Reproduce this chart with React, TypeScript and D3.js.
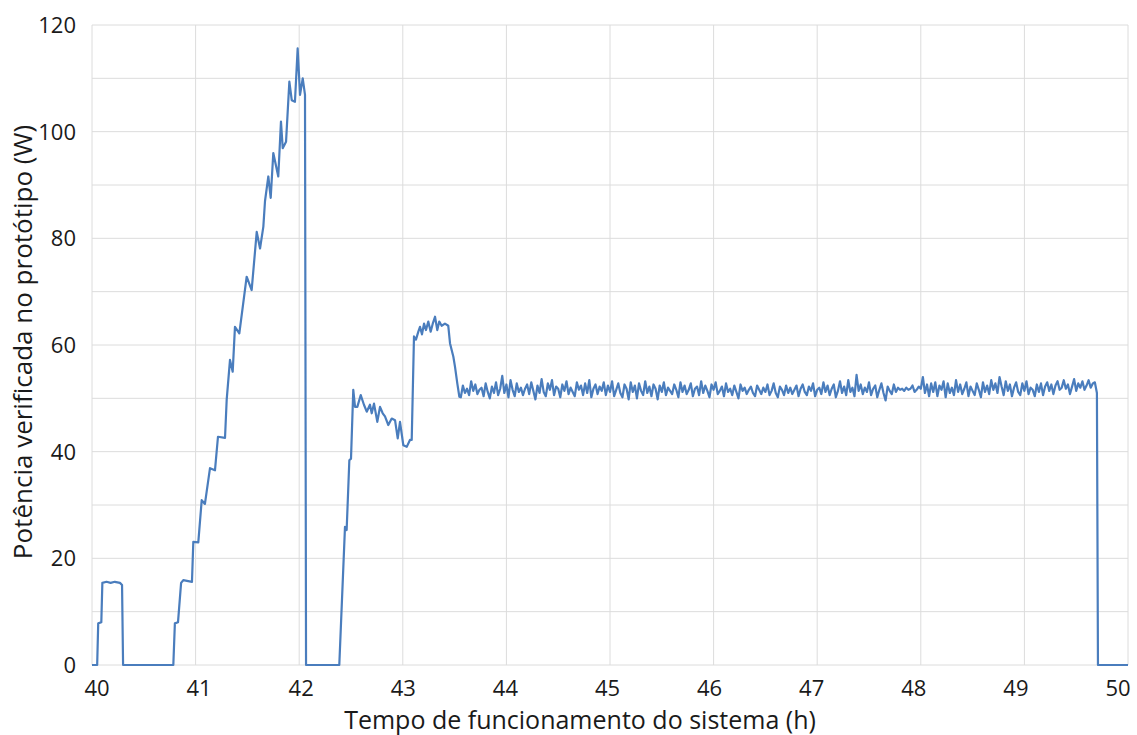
import React, { useEffect, useRef } from 'react';
import * as d3 from 'd3';

// time (h) / power (W), start-up and first runs
const rampTimes = [
    40.0, 40.05, 40.06, 40.09, 40.1, 40.14, 40.18, 40.22, 40.27, 40.29, 40.3,
    40.785, 40.8, 40.83, 40.86, 40.881, 40.965, 40.978, 41.026, 41.059, 41.09, 41.139, 41.187,
    41.216, 41.284, 41.3, 41.332, 41.358, 41.38, 41.422, 41.493, 41.541, 41.59, 41.622, 41.654,
    41.67, 41.702, 41.725, 41.75, 41.798, 41.824, 41.841, 41.873, 41.905, 41.928, 41.959, 41.985,
    42.008, 42.034, 42.056, 42.066,
    42.387, 42.442, 42.458, 42.484, 42.5, 42.522, 42.539, 42.561, 42.594, 42.625, 42.652, 42.683,
    42.7, 42.722, 42.754, 42.78, 42.806, 42.828, 42.86, 42.893, 42.925, 42.951, 42.973, 43.005,
    43.038, 43.069, 43.086, 43.108, 43.127, 43.15, 43.166, 43.185, 43.205, 43.224, 43.246, 43.269,
    43.289, 43.311, 43.333, 43.352, 43.375, 43.407, 43.439, 43.456, 43.488, 43.504, 43.526, 43.546
];
const rampPower = [
    0, 0, 7.8, 8, 15.4, 15.6, 15.4, 15.6, 15.4, 15.0, 0,
    0, 7.8, 8, 15.4, 15.9, 15.6, 23.1, 23.0, 30.9, 30.2, 36.9, 36.5,
    42.8, 42.6, 49.7, 57.2, 55, 63.4, 62.2, 72.8, 70.3, 81.2, 78.1, 82.2,
    87, 91.6, 87.6, 96, 91.6, 101.9, 96.9, 98.1, 109.4, 105.9, 105.6, 115.6,
    106.9, 110, 106.9, 0,
    0, 25.9, 25.3, 38.4, 38.7, 51.6, 48.4, 48.4, 50.6, 48.8, 47.5, 48.8,
    47.2, 49, 45.6, 48.4, 47.2, 46.6, 45, 46.2, 45.9, 42.5, 45.6, 41.2,
    40.9, 42.2, 42.2, 61.6, 61, 62.5, 63.4, 62, 64, 62.8, 64.4, 62.5,
    64, 65.3, 62.8, 64.4, 63.6, 64, 63.6, 60.3, 57.8, 55.9, 52.8, 50.3
];

// steady running, sampled every 0.02 h from 43.56 h
const plateauStart = 43.56;
const plateauStep = 0.02;
const plateauPower = [
    50.2, 52.4, 51.0, 51.8, 50.6, 53.2, 51.4, 52.6, 50.8, 51.6,
    52.0, 50.4, 52.8, 51.2, 50.0, 52.2, 51.0, 53.0, 50.6, 51.8,
    54.2, 51.0, 52.6, 50.2, 53.4, 51.6, 50.4, 52.8, 51.2, 52.0,
    50.6, 51.8, 52.6, 50.8, 53.0, 51.4, 49.8, 52.4, 51.0, 53.6,
    51.2, 50.4, 52.8, 51.6, 53.4, 50.6, 52.2, 51.8, 50.2, 52.6,
    51.4, 53.2, 50.8, 52.0, 51.2, 50.4, 53.0, 51.6, 52.4, 50.6,
    52.8, 51.0, 53.4, 50.2, 51.8, 52.6, 50.8, 52.2, 51.4, 53.0,
    50.6, 52.4, 51.2, 53.2, 50.4, 51.6, 52.8, 51.0, 50.2, 52.6,
    51.8, 49.8, 53.0, 51.2, 52.4, 50.0, 52.8, 51.4, 50.6, 53.2,
    51.0, 52.2, 50.4, 52.6, 51.8, 49.8, 52.4, 51.2, 53.0, 50.6,
    52.0, 51.4, 50.8, 52.6, 51.6, 50.2, 53.0, 51.2, 52.4, 50.8,
    51.6, 52.8, 50.4, 51.8, 52.2, 50.6, 53.2, 51.0, 52.4, 51.4,
    50.2, 52.6, 51.6, 53.0, 50.8, 51.4, 52.2, 50.4, 52.8, 51.2,
    51.8, 50.6, 52.4, 51.2, 50.0, 52.6, 51.4, 52.0, 50.8, 51.6,
    52.2, 51.0, 50.4, 52.4, 51.6, 50.8, 52.0, 51.2, 52.6, 50.6,
    51.4, 52.8, 51.0, 50.2, 52.2, 51.6, 50.6, 52.4, 51.0, 52.0,
    50.8, 51.6, 52.4, 50.4, 51.8, 52.6, 51.2, 50.6, 52.2, 51.4,
    52.8, 50.4, 51.6, 52.0, 50.8, 53.0, 51.2, 52.4, 50.6, 51.8,
    52.6, 50.2, 51.4, 53.2, 51.0, 52.2, 50.6, 53.4, 51.2, 52.0,
    50.4, 54.4, 51.4, 52.6, 50.8, 52.0, 51.2, 53.0, 50.6, 51.8,
    52.4, 50.2, 51.6, 52.8, 51.0, 49.6, 52.2, 51.4, 50.8, 52.6,
    51.2, 52.0, 51.6, 51.8, 51.4, 52.0, 51.6, 51.8, 52.4, 51.2,
    51.6, 52.2, 51.8, 54.0, 51.0, 52.6, 50.4, 52.8, 51.2, 53.0,
    50.4, 52.4, 51.6, 53.2, 50.2, 52.8, 51.0, 52.0, 50.6, 53.4,
    51.2, 52.6, 50.8, 51.8, 53.0, 50.4, 52.2, 51.4, 50.6, 52.8,
    51.6, 50.2, 53.0, 51.2, 52.4, 50.8, 53.4, 51.6, 52.8, 51.0,
    54.0, 52.2, 50.6, 53.2, 51.4, 52.6, 50.4, 52.0, 53.0, 51.2,
    50.6, 52.8, 51.4, 53.2, 50.8, 52.0, 51.6, 50.4, 52.6, 51.2,
    52.8, 50.6, 52.2, 53.0, 51.4, 52.6, 50.8, 52.4, 53.2, 51.6,
    52.0, 53.4, 51.8, 52.6, 50.8, 52.2, 53.6, 51.4, 52.8, 52.0,
    53.2, 51.6, 52.4, 53.4, 52.0, 52.8, 53.0, 51.0
];

// shutdown
const endTimes = [49.71, 50.0];
const endPower = [0, 0];

const xTicks = [40, 41, 42, 43, 44, 45, 46, 47, 48, 49, 50];
const yTicks = [0, 20, 40, 60, 80, 100, 120];
const yGrid = [0, 10, 20, 30, 40, 50, 60, 70, 80, 90, 100, 110, 120];

const App: React.FC = () => {
    const svgRef = useRef<SVGSVGElement | null>(null);

    useEffect(() => {
        if (!svgRef.current) return;
        const width = 1137;
        const height = 735;
        const margin = { top: 25, right: 9, bottom: 70, left: 92 };
        const font = '"Open Sans", Lato, sans-serif';

        const points: [number, number][] = [];
        rampTimes.forEach((t, i) => points.push([t, rampPower[i]]));
        plateauPower.forEach((p, i) => points.push([plateauStart + i * plateauStep, p]));
        endTimes.forEach((t, i) => points.push([t, endPower[i]]));

        const x = d3.scaleLinear().domain([40, 50]).range([margin.left, width - margin.right]);
        const y = d3.scaleLinear().domain([0, 120]).range([height - margin.bottom, margin.top]);
        // the labels sit a bit inside the outer ticks, as in the source figure
        const xLabel = d3.scaleLinear().domain([40, 50]).range([97, 1118]);

        const svg = d3.select(svgRef.current);
        svg.selectAll('*').remove();
        svg.attr('width', width).attr('height', height);

        svg.append('rect').attr('width', width).attr('height', height).attr('fill', 'white');

        // grid
        svg.append('g')
            .selectAll('line')
            .data(yGrid)
            .enter()
            .append('line')
            .attr('x1', x(40))
            .attr('x2', x(50))
            .attr('y1', d => y(d))
            .attr('y2', d => y(d))
            .attr('stroke', '#dcdcdc')
            .attr('stroke-width', 1);

        svg.append('g')
            .selectAll('line')
            .data(xTicks)
            .enter()
            .append('line')
            .attr('x1', d => x(d))
            .attr('x2', d => x(d))
            .attr('y1', y(0))
            .attr('y2', y(120))
            .attr('stroke', '#dcdcdc')
            .attr('stroke-width', 1);

        // tick labels
        svg.append('g')
            .selectAll('text')
            .data(yTicks)
            .enter()
            .append('text')
            .attr('x', 76)
            .attr('y', d => y(d) + 8)
            .attr('text-anchor', 'end')
            .attr('font-family', font)
            .attr('font-size', '22px')
            .attr('fill', '#1a1a1a')
            .text(d => d);

        svg.append('g')
            .selectAll('text')
            .data(xTicks)
            .enter()
            .append('text')
            .attr('x', d => xLabel(d))
            .attr('y', 696)
            .attr('text-anchor', 'middle')
            .attr('font-family', font)
            .attr('font-size', '22px')
            .attr('fill', '#1a1a1a')
            .text(d => d);

        // axis titles
        svg.append('text')
            .attr('x', 580)
            .attr('y', 729)
            .attr('text-anchor', 'middle')
            .attr('font-family', font)
            .attr('font-size', '25px')
            .attr('fill', '#1a1a1a')
            .text('Tempo de funcionamento do sistema (h)');

        svg.append('text')
            .attr('transform', 'translate(32,342) rotate(-90)')
            .attr('text-anchor', 'middle')
            .attr('font-family', font)
            .attr('font-size', '26px')
            .attr('fill', '#1a1a1a')
            .text('Potência verificada no protótipo (W)');

        // the series
        const line = d3.line<[number, number]>()
            .x(d => x(d[0]))
            .y(d => y(d[1]));

        svg.append('path')
            .datum(points)
            .attr('d', line)
            .attr('fill', 'none')
            .attr('stroke', '#4a7dbd')
            .attr('stroke-width', 2.2)
            .attr('stroke-linejoin', 'round');
    }, []);

    return (
        <div style={{ position: 'fixed', left: 0, top: 0 }}>
            <svg ref={svgRef} style={{ display: 'block' }} />
        </div>
    );
};

export default App;
